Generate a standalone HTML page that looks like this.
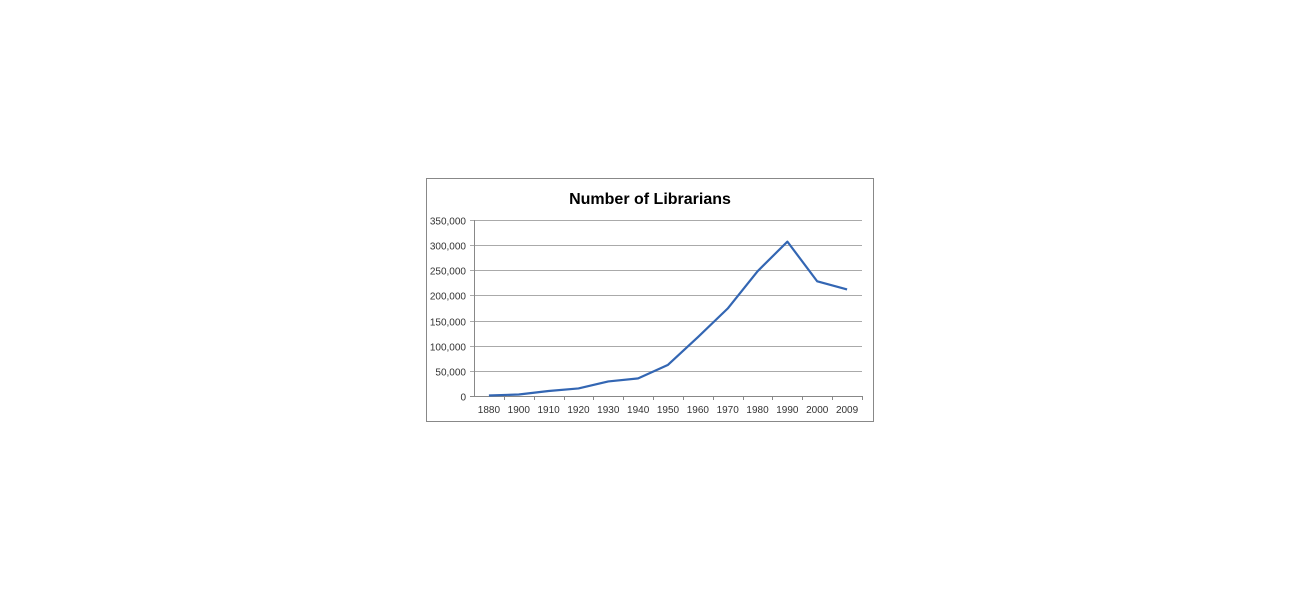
<!DOCTYPE html>
<html><head><meta charset="utf-8"><style>
body{margin:0;background:#fff;width:1300px;height:600px;overflow:hidden;font-family:"Liberation Sans",sans-serif}
</style></head><body>
<svg width="1300" height="600">
<rect x="426.5" y="178.5" width="447" height="243" fill="#fff" stroke="#888"/>
<text x="650" y="204" text-anchor="middle" font-size="16" font-weight="bold" fill="#000">Number of Librarians</text>
<g id="grid"></g><g id="xa"></g><g id="ya"></g><g id="series"></g>
</svg>
<script>
const categories=["1880","1900","1910","1920","1930","1940","1950","1960","1970","1980","1990","2000","2009"];
const values=[1000,3000,10000,15000,29000,35000,62000,117000,174000,248000,307000,228000,212000];
const yTicks=[0,50000,100000,150000,200000,250000,300000,350000];
const ns="http://www.w3.org/2000/svg";
const L=474,R=862,T=220,B=396,yMax=350000;
const bw=(R-L)/categories.length;
const x=i=>L+bw*(i+0.5);
const y=v=>B-(v/yMax)*(B-T);
function mk(t,a,p){const e=document.createElementNS(ns,t);for(const k in a)e.setAttribute(k,a[k]);p.appendChild(e);return e;}
const grid=document.getElementById('grid'),xa=document.getElementById('xa'),ya=document.getElementById('ya'),ser=document.getElementById('series');
yTicks.forEach(v=>{
  const yy=Math.round(y(v))+0.5;
  const g=mk('line',{x1:L-4,x2:R,y1:yy,y2:yy,stroke:v===0?'#888':'#aaa','stroke-width':1},grid);
  
  
  const t=mk('text',{x:L-8,y:yy+4,'text-anchor':'end','font-size':10,fill:'#333'},ya);
  t.textContent=v.toLocaleString('en-US');
  
  
});
mk('line',{x1:L+0.5,x2:L+0.5,y1:T,y2:B,stroke:'#888'},ya);
categories.forEach((c,i)=>{
  const tx=Math.round(L+bw*(i+1))+0.5;
  mk('line',{x1:tx,x2:tx,y1:B,y2:B+4,stroke:'#888'},xa);
  const t=mk('text',{x:x(i),y:B+17,'text-anchor':'middle','font-size':10,fill:'#333'},xa);
  t.textContent=c;
  
  
});
const p=mk('polyline',{points:values.map((v,i)=>x(i)+','+y(v)).join(' '),fill:'none',stroke:'#3366b3','stroke-width':2.2,'stroke-linejoin':'round'},ser);


</script>
</body></html>
